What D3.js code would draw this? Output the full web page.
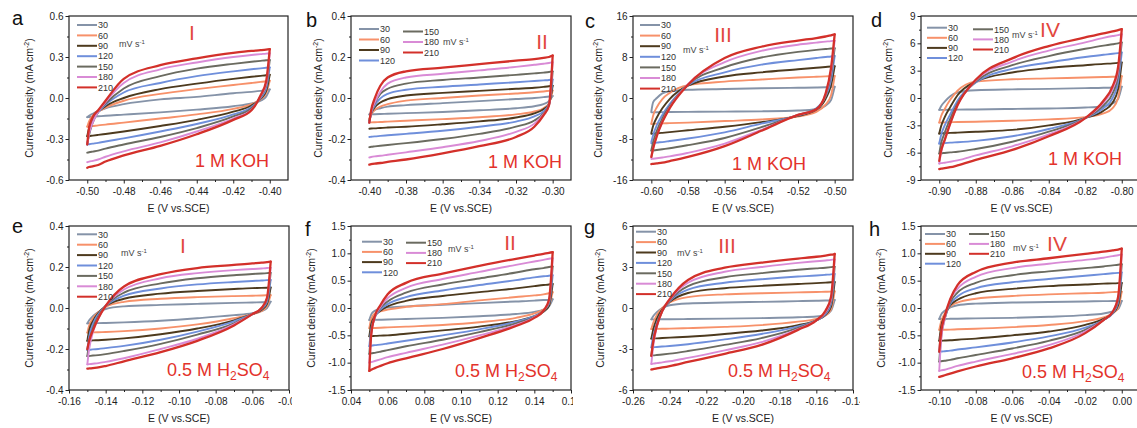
<!DOCTYPE html>
<html><head><meta charset="utf-8">
<script src="https://cdn.jsdelivr.net/npm/d3@7"></script>
<style>body{margin:0;background:#fff}svg{display:block}text{font-family:"Liberation Sans",Arial,sans-serif}</style>
</head><body><svg id="c" width="1137" height="428"></svg>
<script>
// ---------------- DATA ----------------
const scanRates = [30, 60, 90, 120, 150, 180, 210];

// Panel a (I, 1 M KOH)
const E_a = [-0.5, -0.499, -0.497, -0.494, -0.49, -0.48, -0.46, -0.44, -0.42, -0.41, -0.405, -0.402, -0.4];
const up_a = [
 [-0.14, -0.13, -0.115, -0.095, -0.075, -0.045, -0.01, 0.008, 0.035, 0.045, 0.052, 0.057, 0.063],
 [-0.21, -0.17, -0.13, -0.10, -0.07, -0.02, 0.03, 0.065, 0.095, 0.11, 0.118, 0.123, 0.127],
 [-0.28, -0.22, -0.15, -0.10, -0.06, 0.0, 0.065, 0.105, 0.14, 0.155, 0.162, 0.166, 0.17],
 [-0.34, -0.26, -0.17, -0.105, -0.05, 0.04, 0.11, 0.16, 0.195, 0.21, 0.217, 0.221, 0.224],
 [-0.34, -0.27, -0.18, -0.10, -0.04, 0.07, 0.16, 0.215, 0.25, 0.265, 0.272, 0.276, 0.278],
 [-0.34, -0.26, -0.18, -0.10, -0.03, 0.11, 0.21, 0.26, 0.30, 0.315, 0.321, 0.325, 0.327],
 [-0.34, -0.22, -0.14, -0.09, -0.02, 0.14, 0.24, 0.29, 0.33, 0.345, 0.35, 0.354, 0.358]
];
const dn_a = [
 [-0.14, -0.139, -0.137, -0.134, -0.13, -0.122, -0.105, -0.085, -0.06, -0.04, -0.02, 0.01, 0.063],
 [-0.21, -0.208, -0.205, -0.20, -0.195, -0.18, -0.15, -0.12, -0.08, -0.045, -0.01, 0.035, 0.127],
 [-0.28, -0.278, -0.275, -0.27, -0.263, -0.245, -0.205, -0.16, -0.10, -0.055, -0.005, 0.05, 0.17],
 [-0.34, -0.338, -0.334, -0.328, -0.318, -0.295, -0.245, -0.19, -0.12, -0.065, 0.0, 0.07, 0.224],
 [-0.40, -0.397, -0.392, -0.385, -0.37, -0.34, -0.285, -0.22, -0.135, -0.075, 0.01, 0.09, 0.278],
 [-0.47, -0.466, -0.46, -0.45, -0.43, -0.39, -0.325, -0.245, -0.15, -0.085, 0.015, 0.10, 0.327],
 [-0.51, -0.505, -0.50, -0.49, -0.465, -0.42, -0.35, -0.265, -0.16, -0.09, 0.02, 0.12, 0.358]
];

// Panel b (II, 1 M KOH)
const E_b = [-0.4, -0.399, -0.397, -0.394, -0.39, -0.38, -0.36, -0.34, -0.32, -0.31, -0.305, -0.302, -0.3];
const up_b = [
 [-0.08, -0.07, -0.058, -0.05, -0.042, -0.035, -0.025, -0.015, -0.005, 0.0, 0.004, 0.007, 0.01],
 [-0.10, -0.08, -0.058, -0.042, -0.03, -0.013, 0.0, 0.012, 0.022, 0.028, 0.032, 0.035, 0.037],
 [-0.11, -0.075, -0.045, -0.022, -0.006, 0.012, 0.025, 0.035, 0.045, 0.05, 0.054, 0.057, 0.06],
 [-0.12, -0.075, -0.035, -0.002, 0.02, 0.04, 0.055, 0.066, 0.077, 0.083, 0.086, 0.088, 0.09],
 [-0.12, -0.07, -0.025, 0.02, 0.045, 0.07, 0.088, 0.10, 0.113, 0.12, 0.124, 0.127, 0.13],
 [-0.12, -0.07, -0.02, 0.03, 0.07, 0.10, 0.118, 0.135, 0.152, 0.162, 0.167, 0.171, 0.175],
 [-0.12, -0.06, 0.0, 0.06, 0.10, 0.13, 0.148, 0.165, 0.182, 0.19, 0.196, 0.20, 0.207]
];
const dn_b = [
 [-0.08, -0.08, -0.079, -0.078, -0.077, -0.074, -0.068, -0.06, -0.05, -0.04, -0.03, -0.015, 0.01],
 [-0.12, -0.119, -0.118, -0.117, -0.115, -0.111, -0.103, -0.094, -0.08, -0.066, -0.05, -0.025, 0.037],
 [-0.15, -0.149, -0.148, -0.146, -0.144, -0.14, -0.128, -0.114, -0.095, -0.075, -0.055, -0.03, 0.06],
 [-0.19, -0.189, -0.187, -0.185, -0.182, -0.175, -0.16, -0.14, -0.115, -0.09, -0.065, -0.03, 0.09],
 [-0.24, -0.238, -0.236, -0.233, -0.229, -0.22, -0.20, -0.175, -0.14, -0.11, -0.075, -0.035, 0.13],
 [-0.29, -0.288, -0.285, -0.282, -0.277, -0.265, -0.24, -0.21, -0.165, -0.125, -0.08, -0.035, 0.175],
 [-0.325, -0.323, -0.32, -0.317, -0.312, -0.30, -0.27, -0.235, -0.19, -0.14, -0.085, -0.035, 0.207]
];

// Panel c (III, 1 M KOH)
const E_c = [-0.6, -0.599, -0.597, -0.594, -0.59, -0.58, -0.56, -0.54, -0.52, -0.51, -0.505, -0.502, -0.5];
const up_c = [
 [-2.6, -0.8, 0.0, 0.9, 1.3, 1.6, 1.75, 1.9, 2.0, 2.05, 2.1, 2.15, 2.2],
 [-5.0, -3.4, -1.8, -0.2, 1.0, 2.5, 3.2, 3.6, 4.0, 4.15, 4.22, 4.27, 4.3],
 [-6.8, -5.4, -3.8, -2.0, -0.2, 2.4, 4.2, 5.0, 5.6, 5.9, 6.05, 6.15, 6.2],
 [-8.6, -7.2, -5.3, -3.3, -1.2, 2.5, 5.0, 6.5, 7.4, 7.8, 8.0, 8.1, 8.2],
 [-10.2, -8.6, -6.4, -4.0, -1.6, 2.6, 6.0, 7.9, 9.0, 9.4, 9.55, 9.65, 9.7],
 [-11.6, -9.9, -7.4, -4.6, -1.9, 2.7, 7.0, 9.2, 10.4, 10.8, 11.0, 11.1, 11.2],
 [-11.5, -9.8, -7.4, -4.7, -2.0, 2.6, 7.8, 10.0, 11.2, 11.7, 12.0, 12.2, 12.4]
];
const dn_c = [
 [-2.8, -2.8, -2.78, -2.76, -2.74, -2.7, -2.65, -2.6, -2.45, -2.2, -1.5, -0.4, 2.2],
 [-5.1, -5.05, -5.0, -4.95, -4.9, -4.8, -4.5, -4.2, -3.6, -2.7, -1.3, 0.5, 4.3],
 [-7.0, -6.95, -6.9, -6.8, -6.65, -6.3, -5.6, -4.7, -3.5, -2.3, -0.2, 2.5, 6.2],
 [-8.85, -8.8, -8.7, -8.6, -8.4, -7.9, -6.7, -5.0, -3.4, -2.0, 0.3, 3.5, 8.2],
 [-10.3, -10.25, -10.15, -10.0, -9.8, -9.2, -7.8, -5.7, -3.3, -2.1, 0.5, 4.5, 9.7],
 [-11.9, -11.85, -11.75, -11.6, -11.4, -10.7, -8.9, -6.2, -3.3, -2.2, 0.7, 5.2, 11.2],
 [-12.9, -12.85, -12.75, -12.6, -12.3, -11.5, -9.4, -6.4, -3.3, -2.2, 0.8, 5.8, 12.4]
];

// Panel d (IV, 1 M KOH)
const E_d = [-0.9, -0.899, -0.897, -0.894, -0.89, -0.88, -0.86, -0.84, -0.82, -0.81, -0.805, -0.802, -0.8];
const up_d = [
 [-1.3, -0.9, -0.4, 0.2, 0.6, 0.85, 0.95, 1.0, 1.08, 1.12, 1.16, 1.2, 1.25],
 [-2.7, -2.0, -1.2, -0.2, 0.8, 1.8, 2.05, 2.15, 2.25, 2.3, 2.33, 2.37, 2.4],
 [-3.9, -3.1, -2.1, -1.0, 0.3, 1.8, 2.8, 3.3, 3.6, 3.75, 3.8, 3.85, 3.9],
 [-5.0, -4.1, -3.0, -1.8, -0.3, 1.7, 3.2, 3.9, 4.5, 4.75, 4.85, 4.93, 5.0],
 [-6.1, -5.0, -3.8, -2.3, -0.6, 1.8, 3.6, 4.6, 5.4, 5.75, 5.9, 6.0, 6.1],
 [-7.2, -6.0, -4.6, -2.8, -0.8, 1.9, 4.0, 5.2, 6.1, 6.6, 6.8, 6.9, 7.0],
 [-6.9, -5.8, -4.6, -2.8, -0.8, 2.0, 4.35, 5.7, 6.65, 7.1, 7.3, 7.45, 7.55]
];
const dn_d = [
 [-1.3, -1.3, -1.3, -1.29, -1.28, -1.26, -1.2, -1.15, -1.05, -0.9, -0.6, -0.1, 1.25],
 [-2.7, -2.7, -2.68, -2.66, -2.64, -2.6, -2.5, -2.35, -2.1, -1.7, -1.1, 0.0, 2.4],
 [-3.9, -3.88, -3.86, -3.83, -3.8, -3.7, -3.5, -3.0, -2.2, -1.4, -0.5, 1.0, 3.9],
 [-5.0, -4.98, -4.95, -4.9, -4.85, -4.7, -4.2, -3.4, -2.2, -1.1, 0.0, 1.8, 5.0],
 [-6.1, -6.07, -6.03, -5.97, -5.9, -5.6, -4.8, -3.7, -2.2, -0.8, 0.5, 2.5, 6.1],
 [-7.2, -7.15, -7.1, -7.0, -6.85, -6.3, -5.3, -4.0, -2.2, -0.5, 1.0, 3.0, 7.0],
 [-7.8, -7.75, -7.7, -7.6, -7.4, -6.8, -5.7, -4.2, -2.2, -0.3, 1.3, 3.4, 7.55]
];

// Panel e (I, 0.5 M H2SO4)
const E_e = [-0.15, -0.149, -0.147, -0.144, -0.14, -0.13, -0.11, -0.09, -0.07, -0.06, -0.055, -0.052, -0.05];
const up_e = [
 [-0.075, -0.06, -0.04, -0.02, -0.005, 0.008, 0.015, 0.02, 0.025, 0.027, 0.028, 0.029, 0.031],
 [-0.12, -0.085, -0.05, -0.02, 0.005, 0.03, 0.045, 0.053, 0.058, 0.06, 0.061, 0.062, 0.063],
 [-0.16, -0.11, -0.065, -0.025, 0.01, 0.045, 0.07, 0.083, 0.093, 0.097, 0.098, 0.099, 0.10],
 [-0.205, -0.14, -0.08, -0.03, 0.01, 0.06, 0.095, 0.115, 0.127, 0.132, 0.134, 0.136, 0.137],
 [-0.235, -0.17, -0.10, -0.04, 0.01, 0.075, 0.12, 0.145, 0.16, 0.166, 0.168, 0.17, 0.172],
 [-0.275, -0.20, -0.12, -0.05, 0.01, 0.09, 0.145, 0.17, 0.185, 0.19, 0.193, 0.195, 0.197],
 [-0.20, -0.16, -0.11, -0.05, 0.01, 0.105, 0.165, 0.195, 0.21, 0.218, 0.221, 0.224, 0.226]
];
const dn_e = [
 [-0.075, -0.075, -0.074, -0.074, -0.073, -0.07, -0.062, -0.05, -0.035, -0.025, -0.015, 0.0, 0.031],
 [-0.12, -0.12, -0.119, -0.118, -0.117, -0.113, -0.10, -0.08, -0.05, -0.03, -0.015, 0.01, 0.063],
 [-0.16, -0.159, -0.158, -0.157, -0.155, -0.148, -0.128, -0.10, -0.06, -0.03, -0.01, 0.02, 0.10],
 [-0.205, -0.204, -0.202, -0.20, -0.196, -0.185, -0.155, -0.115, -0.065, -0.03, -0.005, 0.03, 0.137],
 [-0.235, -0.234, -0.232, -0.23, -0.225, -0.21, -0.175, -0.13, -0.075, -0.03, -0.002, 0.04, 0.172],
 [-0.275, -0.274, -0.272, -0.269, -0.263, -0.245, -0.20, -0.15, -0.08, -0.03, 0.0, 0.045, 0.197],
 [-0.296, -0.295, -0.293, -0.29, -0.283, -0.26, -0.215, -0.16, -0.085, -0.03, 0.0, 0.05, 0.226]
];

// Panel f (II, 0.5 M H2SO4)
const E_f = [0.05, 0.051, 0.053, 0.056, 0.06, 0.07, 0.09, 0.11, 0.13, 0.14, 0.145, 0.148, 0.15];
const up_f = [
 [-0.22, -0.12, -0.05, -0.01, 0.01, 0.03, 0.06, 0.09, 0.12, 0.135, 0.145, 0.152, 0.16],
 [-0.37, -0.2, -0.1, -0.06, -0.03, 0.02, 0.07, 0.14, 0.2, 0.23, 0.25, 0.27, 0.29],
 [-0.52, -0.3, -0.15, -0.05, 0.03, 0.13, 0.22, 0.29, 0.36, 0.40, 0.42, 0.43, 0.44],
 [-0.70, -0.4, -0.17, -0.03, 0.07, 0.20, 0.32, 0.42, 0.51, 0.56, 0.58, 0.59, 0.60],
 [-0.84, -0.45, -0.17, 0.0, 0.12, 0.28, 0.43, 0.54, 0.65, 0.71, 0.73, 0.75, 0.76],
 [-1.0, -0.5, -0.17, 0.02, 0.18, 0.37, 0.53, 0.66, 0.79, 0.85, 0.88, 0.90, 0.91],
 [-1.15, -0.5, -0.15, 0.05, 0.25, 0.46, 0.63, 0.77, 0.90, 0.96, 0.99, 1.01, 1.02]
];
const dn_f = [
 [-0.22, -0.22, -0.218, -0.215, -0.21, -0.20, -0.18, -0.15, -0.11, -0.07, -0.03, 0.03, 0.16],
 [-0.37, -0.368, -0.365, -0.36, -0.355, -0.34, -0.31, -0.26, -0.18, -0.10, -0.03, 0.05, 0.29],
 [-0.52, -0.515, -0.51, -0.505, -0.50, -0.47, -0.41, -0.34, -0.24, -0.15, -0.07, 0.04, 0.44],
 [-0.70, -0.69, -0.68, -0.67, -0.65, -0.60, -0.50, -0.39, -0.25, -0.15, -0.05, 0.08, 0.60],
 [-0.84, -0.83, -0.82, -0.80, -0.77, -0.70, -0.58, -0.44, -0.28, -0.16, -0.05, 0.10, 0.76],
 [-1.0, -0.99, -0.97, -0.94, -0.90, -0.82, -0.67, -0.50, -0.31, -0.17, -0.05, 0.13, 0.91],
 [-1.15, -1.13, -1.10, -1.06, -1.01, -0.92, -0.75, -0.55, -0.33, -0.18, -0.05, 0.15, 1.02]
];

// Panel g (III, 0.5 M H2SO4)
const E_g = [-0.25, -0.249, -0.247, -0.244, -0.24, -0.23, -0.21, -0.19, -0.17, -0.16, -0.155, -0.152, -0.15];
const up_g = [
 [-0.83, -0.6, -0.3, 0.0, 0.2, 0.33, 0.4, 0.45, 0.5, 0.53, 0.55, 0.57, 0.59],
 [-1.54, -1.1, -0.5, 0.0, 0.4, 0.8, 1.0, 1.08, 1.14, 1.17, 1.19, 1.2, 1.22],
 [-2.24, -1.6, -0.8, -0.1, 0.45, 1.1, 1.45, 1.62, 1.76, 1.82, 1.86, 1.88, 1.9],
 [-2.88, -2.1, -1.1, -0.2, 0.5, 1.35, 1.85, 2.1, 2.3, 2.38, 2.43, 2.46, 2.49],
 [-3.49, -2.5, -1.3, -0.2, 0.55, 1.6, 2.25, 2.55, 2.8, 2.9, 2.95, 2.99, 3.02],
 [-4.1, -2.8, -1.4, -0.2, 0.6, 1.85, 2.65, 3.0, 3.3, 3.42, 3.48, 3.52, 3.56],
 [-3.5, -2.5, -1.3, -0.2, 0.65, 2.05, 2.95, 3.32, 3.62, 3.75, 3.84, 3.9, 3.95]
];
const dn_g = [
 [-0.83, -0.83, -0.83, -0.82, -0.82, -0.81, -0.78, -0.74, -0.68, -0.62, -0.5, -0.2, 0.59],
 [-1.54, -1.54, -1.53, -1.52, -1.51, -1.47, -1.38, -1.25, -1.0, -0.8, -0.55, -0.1, 1.22],
 [-2.24, -2.23, -2.22, -2.2, -2.17, -2.1, -1.9, -1.65, -1.25, -0.9, -0.5, 0.1, 1.9],
 [-2.88, -2.87, -2.85, -2.82, -2.78, -2.65, -2.3, -1.9, -1.35, -0.9, -0.45, 0.3, 2.49],
 [-3.49, -3.47, -3.44, -3.4, -3.34, -3.15, -2.7, -2.2, -1.45, -0.9, -0.35, 0.45, 3.02],
 [-4.1, -4.07, -4.03, -3.98, -3.9, -3.65, -3.1, -2.5, -1.55, -0.9, -0.3, 0.6, 3.56],
 [-4.5, -4.47, -4.42, -4.35, -4.25, -3.95, -3.35, -2.7, -1.6, -0.9, -0.2, 0.8, 3.95]
];

// Panel h (IV, 0.5 M H2SO4)
const E_h = [-0.1, -0.099, -0.097, -0.094, -0.09, -0.08, -0.06, -0.04, -0.02, -0.01, -0.005, -0.002, 0.0];
const up_h = [
 [-0.2, -0.12, -0.05, 0.01, 0.05, 0.08, 0.1, 0.11, 0.12, 0.125, 0.127, 0.129, 0.13],
 [-0.4, -0.25, -0.1, 0.03, 0.1, 0.17, 0.22, 0.25, 0.27, 0.28, 0.29, 0.295, 0.3],
 [-0.6, -0.35, -0.14, 0.05, 0.15, 0.27, 0.35, 0.4, 0.43, 0.445, 0.45, 0.455, 0.46],
 [-0.8, -0.45, -0.18, 0.07, 0.21, 0.36, 0.47, 0.53, 0.59, 0.62, 0.635, 0.643, 0.65],
 [-0.98, -0.55, -0.2, 0.1, 0.28, 0.46, 0.6, 0.67, 0.73, 0.76, 0.78, 0.79, 0.8],
 [-1.15, -0.6, -0.2, 0.15, 0.35, 0.57, 0.73, 0.81, 0.88, 0.92, 0.95, 0.965, 0.98],
 [-0.8, -0.45, -0.15, 0.16, 0.42, 0.66, 0.83, 0.91, 0.99, 1.03, 1.055, 1.07, 1.085]
];
const dn_h = [
 [-0.2, -0.2, -0.2, -0.198, -0.196, -0.19, -0.18, -0.16, -0.13, -0.1, -0.06, -0.02, 0.13],
 [-0.4, -0.4, -0.398, -0.395, -0.39, -0.38, -0.35, -0.31, -0.24, -0.17, -0.1, 0.0, 0.3],
 [-0.6, -0.598, -0.595, -0.59, -0.58, -0.56, -0.5, -0.43, -0.31, -0.2, -0.1, 0.05, 0.46],
 [-0.8, -0.797, -0.79, -0.78, -0.76, -0.72, -0.63, -0.52, -0.36, -0.22, -0.1, 0.1, 0.65],
 [-0.98, -0.975, -0.965, -0.95, -0.92, -0.86, -0.74, -0.6, -0.4, -0.22, -0.08, 0.14, 0.8],
 [-1.15, -1.14, -1.13, -1.1, -1.06, -0.98, -0.84, -0.68, -0.43, -0.22, -0.07, 0.18, 0.98],
 [-1.26, -1.25, -1.23, -1.2, -1.16, -1.07, -0.92, -0.74, -0.46, -0.22, -0.07, 0.2, 1.085]
];

// Tick values
const xTicks_a = [-0.50, -0.48, -0.46, -0.44, -0.42, -0.40];
const yTicks_a = [-0.6, -0.3, 0.0, 0.3, 0.6];
const xTicks_b = [-0.40, -0.38, -0.36, -0.34, -0.32, -0.30];
const yTicks_b = [-0.4, -0.2, 0.0, 0.2, 0.4];
const xTicks_c = [-0.60, -0.58, -0.56, -0.54, -0.52, -0.50];
const yTicks_c = [-16, -8, 0, 8, 16];
const xTicks_d = [-0.90, -0.88, -0.86, -0.84, -0.82, -0.80];
const yTicks_d = [-9, -6, -3, 0, 3, 6, 9];
const xTicks_e = [-0.16, -0.14, -0.12, -0.10, -0.08, -0.06, -0.04];
const yTicks_e = [-0.4, -0.2, 0.0, 0.2, 0.4];
const xTicks_f = [0.04, 0.06, 0.08, 0.10, 0.12, 0.14, 0.16];
const yTicks_f = [-1.5, -1.0, -0.5, 0.0, 0.5, 1.0, 1.5];
const xTicks_g = [-0.26, -0.24, -0.22, -0.20, -0.18, -0.16, -0.14];
const yTicks_g = [-6, -3, 0, 3, 6];
const xTicks_h = [-0.10, -0.08, -0.06, -0.04, -0.02, 0.00];
const yTicks_h = [-1.5, -1.0, -0.5, 0.0, 0.5, 1.0, 1.5];

// ---------------- STYLE / LAYOUT ----------------
const seriesColors = ['#8593a8', '#f7916a', '#4d3a1e', '#6f8fdb', '#6b6b60', '#d98bd6', '#d3302a'];
const seriesWidths = [1.9, 1.9, 1.9, 1.9, 1.9, 1.9, 2.3];

const panels = [
 {L:'a', E:E_a, up:up_a, dn:dn_a, xt:xTicks_a, yt:yTicks_a, xd:[-0.51,-0.39], yd:[-0.6,0.6], xf:'.2f', yf:'.1f',
  x0:69, x1:288, top:0, cell:[0,292], letter:[12,25], yTitleX:33, roman:'I', romanPos:[192,40], elec:0, elecPos:[195,167],
  leg:{cols:1, lx:[77], ly:[25], dy:10.4}, mv:[119,44]},
 {L:'b', E:E_b, up:up_b, dn:dn_b, xt:xTicks_b, yt:yTicks_b, xd:[-0.41,-0.29], yd:[-0.4,0.4], xf:'.2f', yf:'.1f',
  x0:351, x1:571, top:0, cell:[292,573], letter:[306,27], yTitleX:322, roman:'II', romanPos:[542,49], elec:0, elecPos:[488,168],
  leg:{cols:2, lx:[359,403], ly:[29,31.5], dy:10.5}, mv:[443,42]},
 {L:'c', E:E_c, up:up_c, dn:dn_c, xt:xTicks_c, yt:yTicks_c, xd:[-0.61,-0.49], yd:[-16,16], xf:'.2f', yf:'d',
  x0:633, x1:853, top:0, cell:[573,860], letter:[585,28], yTitleX:602, roman:'III', romanPos:[723,42], elec:0, elecPos:[732,170],
  leg:{cols:1, lx:[640], ly:[25], dy:10.6}, mv:[683,50]},
 {L:'d', E:E_d, up:up_d, dn:dn_d, xt:xTicks_d, yt:yTicks_d, xd:[-0.91,-0.79], yd:[-9,9], xf:'.2f', yf:'d',
  x0:921, x1:1140, top:0, cell:[860,1137], letter:[871,27], yTitleX:892, roman:'IV', romanPos:[1050,37], elec:0, elecPos:[1048,165],
  leg:{cols:2, lx:[927,973], ly:[27.7,29.3], dy:10.1}, mv:[1012,35]},
 {L:'e', E:E_e, up:up_e, dn:dn_e, xt:xTicks_e, yt:yTicks_e, xd:[-0.16,-0.04], yd:[-0.4,0.4], xf:'.2f', yf:'.1f',
  x0:69, x1:289, top:210, cell:[0,292], letter:[12,233], yTitleX:33, roman:'I', romanPos:[183,253], elec:1, elecPos:[167,376],
  leg:{cols:1, lx:[77], ly:[234.3], dy:10.4}, mv:[121,253]},
 {L:'f', E:E_f, up:up_f, dn:dn_f, xt:xTicks_f, yt:yTicks_f, xd:[0.04,0.16], yd:[-1.5,1.5], xf:'.2f', yf:'.1f',
  x0:351, x1:571, top:210, cell:[292,573], letter:[305,236], yTitleX:315, roman:'II', romanPos:[510,250], elec:1, elecPos:[455,377],
  leg:{cols:2, lx:[362,406], ly:[241.7,242.7], dy:10.2}, mv:[448,249]},
 {L:'g', E:E_g, up:up_g, dn:dn_g, xt:xTicks_g, yt:yTicks_g, xd:[-0.26,-0.14], yd:[-6,6], xf:'.2f', yf:'d',
  x0:633, x1:853, top:210, cell:[573,860], letter:[584,234], yTitleX:604, roman:'III', romanPos:[727,253], elec:1, elecPos:[728,377],
  leg:{cols:1, lx:[636], ly:[231.7], dy:10.4}, mv:[677,253]},
 {L:'h', E:E_h, up:up_h, dn:dn_h, xt:xTicks_h, yt:yTicks_h, xd:[-0.11,0.01], yd:[-1.5,1.5], xf:'.2f', yf:'.1f',
  x0:921, x1:1140, top:210, cell:[860,1137], letter:[869,236], yTitleX:885, roman:'IV', romanPos:[1057,251], elec:1, elecPos:[1022,378],
  leg:{cols:2, lx:[925,969], ly:[234,234], dy:9.9}, mv:[1013,248]}
];

// ---------------- DRAW ----------------
const svg = d3.select('#c');
svg.append('rect').attr('width',1137).attr('height',428).attr('fill','#fff');
const defs = svg.append('defs');
const fmt = f => d => d3.format(f)(d).replace('\u2212','-');

panels.forEach((p, k) => {
  const y0 = p.top + 16, y1 = p.top + 180;
  const cy0 = p.top === 0 ? 0 : 215, cy1 = p.top === 0 ? 215 : 428;
  defs.append('clipPath').attr('id','cell'+k).append('rect')
    .attr('x',p.cell[0]).attr('y',cy0).attr('width',p.cell[1]-p.cell[0]).attr('height',cy1-cy0);
  defs.append('clipPath').attr('id','plot'+k).append('rect')
    .attr('x',p.x0).attr('y',y0).attr('width',p.x1-p.x0).attr('height',y1-y0);
  const g = svg.append('g').attr('clip-path',`url(#cell${k})`);
  const x = d3.scaleLinear().domain(p.xd).range([p.x0,p.x1]);
  const y = d3.scaleLinear().domain(p.yd).range([y1,y0]);

  // curves
  const line = d3.line().x(d=>x(d[0])).y(d=>y(d[1])).curve(d3.curveMonotoneX);
  const cg = g.append('g').attr('clip-path',`url(#plot${k})`);
  scanRates.forEach((r,i) => {
    const upPts = p.E.map((e,j)=>[e,p.up[i][j]]);
    const dnPts = p.E.map((e,j)=>[e,p.dn[i][j]]);
    [upPts, dnPts].forEach(pts => {
      cg.append('path').attr('d',line(pts)).attr('fill','none')
        .attr('stroke',seriesColors[i]).attr('stroke-width',seriesWidths[i])
        .attr('stroke-linejoin','round').attr('stroke-linecap','round');
    });
  });

  // axes
  const mid = a => a.slice(1).map((v,i)=>(v+a[i])/2);
  g.append('g').attr('transform',`translate(0,${y1})`)
    .call(d3.axisBottom(x).tickValues(p.xt).tickFormat(fmt(p.xf)).tickSize(3.5).tickPadding(4).tickSizeOuter(0));
  g.append('g').attr('transform',`translate(0,${y1})`)
    .call(d3.axisBottom(x).tickValues(mid(p.xt)).tickFormat('').tickSize(2).tickSizeOuter(0));
  g.append('g').attr('transform',`translate(${p.x0},0)`)
    .call(d3.axisLeft(y).tickValues(p.yt).tickFormat(fmt(p.yf)).tickSize(3.5).tickPadding(2).tickSizeOuter(0));
  g.append('g').attr('transform',`translate(${p.x0},0)`)
    .call(d3.axisLeft(y).tickValues(mid(p.yt)).tickFormat('').tickSize(2).tickSizeOuter(0));
  g.selectAll('.domain').remove();
  g.selectAll('.tick line').attr('stroke','#222').attr('stroke-width',1);
  g.selectAll('.tick text').attr('font-size',10).attr('fill','#222')
    .attr('font-family','"Liberation Sans",Arial,sans-serif');

  // frame
  g.append('rect').attr('x',p.x0).attr('y',y0).attr('width',p.x1-p.x0).attr('height',y1-y0)
    .attr('fill','none').attr('stroke','#222').attr('stroke-width',1.2);

  // axis titles
  g.append('text').attr('x',(p.x0+p.x1)/2 - (p.x1>1137?9:0)).attr('y',p.top+212).attr('text-anchor','middle')
    .attr('font-size',10.5).attr('fill','#222').text('E (V vs.SCE)');
  const yt = g.append('text').attr('transform',`translate(${p.yTitleX},${(y0+y1)/2}) rotate(-90)`)
    .attr('text-anchor','middle').attr('font-size',10.5).attr('fill','#222');
  yt.append('tspan').text('Current density (mA cm');
  yt.append('tspan').attr('font-size',7).attr('dy',-4).text('-2');
  yt.append('tspan').attr('dy',4).text(')');

  // panel letter
  g.append('text').attr('x',p.letter[0]).attr('y',p.letter[1]).attr('font-size',20).attr('fill','#111').text(p.L);

  // legend
  scanRates.forEach((r,i) => {
    let col = 0, row = i;
    if (p.leg.cols === 2 && i >= 4) { col = 1; row = i - 4; }
    const lx = p.leg.lx[col], ly = p.leg.ly[col] + row * p.leg.dy;
    g.append('line').attr('x1',lx).attr('x2',lx+20).attr('y1',ly).attr('y2',ly)
      .attr('stroke',seriesColors[i]).attr('stroke-width',2);
    g.append('text').attr('x',lx+21).attr('y',ly+3.2).attr('font-size',9).attr('fill','#333').text(r);
  });
  const mv = g.append('text').attr('x',p.mv[0]).attr('y',p.mv[1]+3).attr('font-size',9).attr('fill','#444');
  mv.append('tspan').text('mV s');
  mv.append('tspan').attr('font-size',6).attr('dy',-3.5).text('-1');

  // roman numeral
  g.append('text').attr('x',p.romanPos[0]).attr('y',p.romanPos[1]).attr('text-anchor','middle')
    .attr('font-family','"Liberation Serif","Times New Roman",serif').attr('font-size',21)
    .attr('fill','#e2473d').text(p.roman);

  // electrolyte
  const el = g.append('text').attr('x',p.elecPos[0]).attr('y',p.elecPos[1]).attr('font-size',18).attr('fill','#e3322b');
  if (p.elec === 0) {
    el.text('1 M KOH');
  } else {
    el.append('tspan').text('0.5 M H');
    el.append('tspan').attr('font-size',12).attr('dy',4).text('2');
    el.append('tspan').attr('dy',-4).text('SO');
    el.append('tspan').attr('font-size',12).attr('dy',4).text('4');
  }
});
</script></body></html>
